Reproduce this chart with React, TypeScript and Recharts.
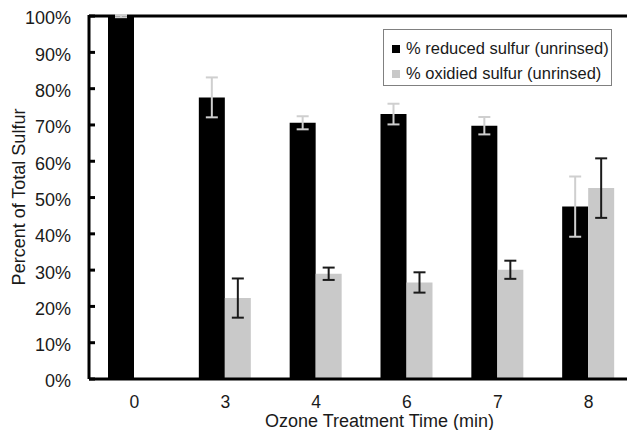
import {
  Bar,
  BarChart,
  ErrorBar,
  Legend,
  ReferenceLine,
  XAxis,
  YAxis,
} from "recharts";

// Ozone exposure time (min) and sulfur speciation, unrinsed samples
const times = ["0", "3", "4", "6", "7", "8"];
const reduced = [100, 77.6, 70.6, 73.0, 69.8, 47.5];
const reducedErr = [0.3, 5.5, 1.8, 2.85, 2.4, 8.3];
const oxidized = [0, 22.3, 29.0, 26.6, 30.1, 52.6];
const oxidizedErr = [0, 5.4, 1.7, 2.8, 2.5, 8.2];
const yTicks = [0, 10, 20, 30, 40, 50, 60, 70, 80, 90, 100];

const REDUCED_NAME = "% reduced sulfur (unrinsed)";
const OXIDIZED_NAME = "% oxidied sulfur (unrinsed)";
const seriesOrder = [REDUCED_NAME, OXIDIZED_NAME];

const FONT = '"Liberation Sans", Arial, Helvetica, sans-serif';
const GREY = "#c9c9c9";

const data = times.map((t, i) => ({
  time: t,
  reduced: reduced[i],
  reducedErr: reducedErr[i],
  oxidized: oxidized[i],
  oxidizedErr: oxidizedErr[i],
}));

// boxed legend, series kept in drawing order (recharts sorts by name otherwise)
function LegendBox({ payload }: { payload?: any[] }) {
  const items = [...(payload ?? [])].sort(
    (a, b) => seriesOrder.indexOf(a.value) - seriesOrder.indexOf(b.value)
  );
  return (
    <div
      style={{
        border: "1px solid #808080",
        background: "#fff",
        padding: "6px 0 0 8px",
        boxSizing: "border-box",
        width: 229,
        height: 57,
        fontFamily: FONT,
        fontSize: 16.5,
        color: "#1a1a1a",
      }}
    >
      {items.map((p) => (
        <div
          key={p.value}
          style={{ display: "flex", alignItems: "center", height: 25 }}
        >
          <span
            style={{
              display: "inline-block",
              width: 8,
              height: 8,
              background: p.color,
              marginRight: 6,
            }}
          />
          {p.value}
        </div>
      ))}
    </div>
  );
}

export default function App() {
  return (
    <div
      style={{
        position: "fixed",
        left: 0,
        top: 0,
        width: 627,
        height: 430,
        overflow: "hidden",
        background: "#fff",
      }}
    >
      <BarChart
        width={640}
        height={430}
        data={data}
        margin={{ top: 15, right: 6, left: 0, bottom: 0 }}
        barCategoryGap={19}
        barGap={0}
        style={{ fontFamily: FONT }}
      >
        <XAxis
          dataKey="time"
          height={51}
          tickLine={false}
          tickSize={6}
          tickMargin={11}
          axisLine={{ stroke: "#000", strokeWidth: 3 }}
          tick={{ fontSize: 17.5, fill: "#1a1a1a" }}
          label={{
            value: "Ozone Treatment Time (min)",
            position: "insideBottom",
            offset: 3,
            dx: 18,
            fontSize: 18,
            fill: "#1a1a1a",
          }}
        />
        <YAxis
          width={89}
          domain={[0, 100]}
          ticks={yTicks}
          interval={0}
          tickFormatter={(v: number) => `${v}%`}
          tickSize={-6}
          tickMargin={24}
          tickLine={{ stroke: "#000", strokeWidth: 3 }}
          axisLine={{ stroke: "#000", strokeWidth: 3 }}
          tick={{ fontSize: 18, fill: "#1a1a1a", dy: 2 }}
          label={{
            value: "Percent of Total Sulfur",
            angle: -90,
            position: "insideLeft",
            offset: 19,
            textAnchor: "middle",
            fontSize: 18,
            fill: "#1a1a1a",
          }}
        />
        <ReferenceLine y={100} stroke="#000" strokeWidth={3} />
        <Legend
          layout="vertical"
          align="center"
          verticalAlign="middle"
          wrapperStyle={{ left: 383, top: 29, width: 229, height: 57 }}
          content={(props: any) => <LegendBox payload={props.payload} />}
        />
        <Bar
          dataKey="reduced"
          name={REDUCED_NAME}
          fill="#000"
          isAnimationActive={false}
        >
          <ErrorBar
            dataKey="reducedErr"
            width={6}
            stroke="#cfcfcf"
            strokeWidth={2}
            direction="y"
          />
        </Bar>
        <Bar
          dataKey="oxidized"
          name={OXIDIZED_NAME}
          fill={GREY}
          isAnimationActive={false}
        >
          <ErrorBar
            dataKey="oxidizedErr"
            width={6}
            stroke="#1a1a1a"
            strokeWidth={2}
            direction="y"
          />
        </Bar>
      </BarChart>
    </div>
  );
}
